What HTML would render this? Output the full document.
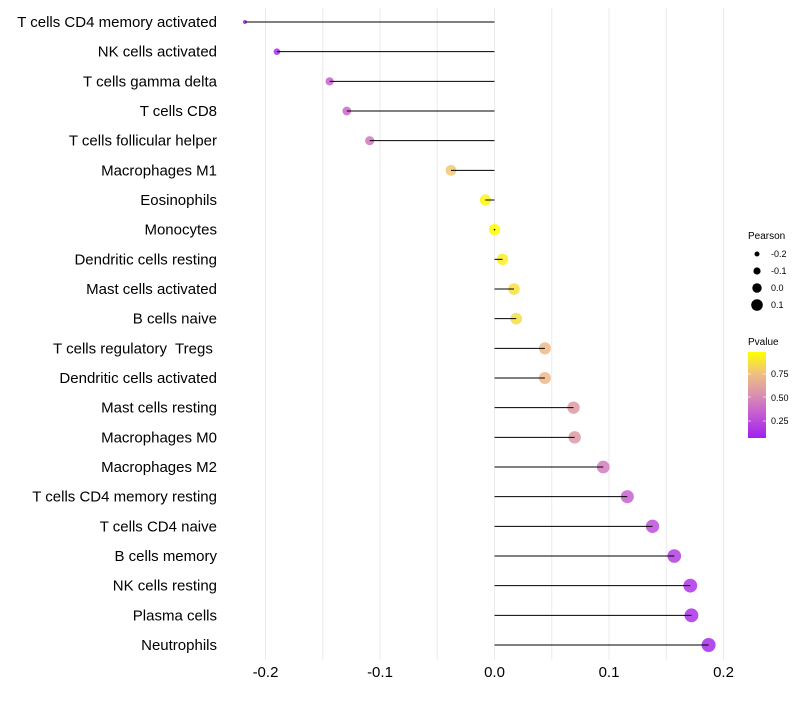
<!DOCTYPE html>
<html><head><meta charset="utf-8"><style>
body{margin:0;background:#fff;font-family:"Liberation Sans",sans-serif}
text{white-space:pre}
</style></head><body>
<svg id="chart" width="800" height="700" xmlns="http://www.w3.org/2000/svg" font-family="Liberation Sans, sans-serif">
<defs><linearGradient id="pg" x1="0" y1="1" x2="0" y2="0">
<stop offset="0" stop-color="#a020f0"/><stop offset="0.3" stop-color="#c860d0"/><stop offset="0.5" stop-color="#d890b0"/><stop offset="0.75" stop-color="#f0c080"/><stop offset="1" stop-color="#ffff00"/></linearGradient></defs>
<g id="grid"></g>
<g id="marks"></g>
<g id="ylabels"></g>
<g id="xlabels"></g>
<g>
<text x="748" y="239" font-size="10" fill="#000">Pearson</text>
<g id="sizeleg"></g>
</g>
<g>
<text x="748" y="345" font-size="10" fill="#000">Pvalue</text>
<rect x="748" y="352" width="18" height="86" fill="url(#pg)"/>
<g font-size="9" fill="#000">
<text x="771" y="377">0.75</text><text x="771" y="401">0.50</text><text x="771" y="424">0.25</text>
</g>
<g stroke="#fff" stroke-opacity="0.6"><line x1="748" y1="374" x2="751" y2="374"/><line x1="763" y1="374" x2="766" y2="374"/><line x1="748" y1="397" x2="751" y2="397"/><line x1="763" y1="397" x2="766" y2="397"/><line x1="748" y1="421" x2="751" y2="421"/><line x1="763" y1="421" x2="766" y2="421"/></g>
</g>
</svg>
<script>
const categories=["T cells CD4 memory activated","NK cells activated","T cells gamma delta","T cells CD8","T cells follicular helper","Macrophages M1","Eosinophils","Monocytes","Dendritic cells resting","Mast cells activated","B cells naive","T cells regulatory  Tregs ","Dendritic cells activated","Mast cells resting","Macrophages M0","Macrophages M2","T cells CD4 memory resting","T cells CD4 naive","B cells memory","NK cells resting","Plasma cells","Neutrophils"];
const pearson=[-0.218,-0.19,-0.144,-0.129,-0.109,-0.038,-0.008,0.0,0.007,0.017,0.019,0.044,0.044,0.069,0.070,0.095,0.116,0.138,0.157,0.171,0.172,0.187];
const pvalues=[0.04,0.06,0.3,0.32,0.4,0.78,0.96,0.99,0.93,0.88,0.87,0.72,0.72,0.55,0.55,0.42,0.3,0.22,0.14,0.1,0.09,0.05];
const xTicks=[-0.2,-0.1,0.0,0.1,0.2];
const xTickLabels=["-0.2","-0.1","0.0","0.1","0.2"];
const sizeLegendVals=[-0.2,-0.1,0.0,0.1];
const sizeLegendLabels=["-0.2","-0.1","0.0","0.1"];

const NS="http://www.w3.org/2000/svg";
const x=v=>494.5+v*1145;
const y=i=>22+i*(623/21);
const r=v=>2+5*Math.sqrt(Math.max(0,v+0.218)/0.405);
const stops=[[0,[160,32,240]],[0.3,[200,96,208]],[0.5,[216,144,176]],[0.75,[240,192,128]],[1,[255,255,0]]];
function col(p){for(let i=1;i<stops.length;i++){if(p<=stops[i][0]){const a=stops[i-1],b=stops[i],t=(p-a[0])/(b[0]-a[0]);return "rgb("+a[1].map((c,k)=>Math.round(c+(b[1][k]-c)*t)).join(",")+")";}}return "rgb(255,255,0)";}
function mk(tag,attrs,parent){const e=document.createElementNS(NS,tag);for(const k in attrs)e.setAttribute(k,attrs[k]);parent.appendChild(e);return e;}
const grid=document.getElementById('grid');
for(let v=-0.2;v<=0.2001;v+=0.05){
 const l=mk('line',{x1:x(v),x2:x(v),y1:8,y2:660,stroke:'#ebebeb','stroke-width':1},grid);
 
 
}
const marks=document.getElementById('marks'),yl=document.getElementById('ylabels'),xl=document.getElementById('xlabels');
categories.forEach((c,i)=>{
 const cy=y(i);
 const pt=mk('circle',{cx:x(pearson[i]),cy:cy,r:r(pearson[i]),fill:col(pvalues[i]),'fill-opacity':0.85},marks);
 
 
 const ln=mk('line',{x1:x(0),x2:x(pearson[i]),y1:cy,y2:cy,stroke:'#000','stroke-width':1},marks);
 
 
 const t=mk('text',{x:217,y:cy+5,'text-anchor':'end','font-size':15,fill:'#000'},yl);
 t.textContent=c;
 
 
});
mk('circle',{cx:x(0),cy:y(7),r:0.8,fill:'#000'},marks);
xTicks.forEach((v,i)=>{
 const t=mk('text',{x:x(v),y:677,'text-anchor':'middle','font-size':15,fill:'#000'},xl);
 t.textContent=xTickLabels[i];
 
 
});
const sl=document.getElementById('sizeleg');
sizeLegendVals.forEach((v,i)=>{
 const cy=254+i*17;
 const c=mk('circle',{cx:757,cy:cy,r:2.5+i*1.1,fill:'#000'},sl);
 
 
 const t=mk('text',{x:771,y:cy+3,'font-size':9,fill:'#000'},sl);
 t.textContent=sizeLegendLabels[i];
 
 
});
</script>
</body></html>
